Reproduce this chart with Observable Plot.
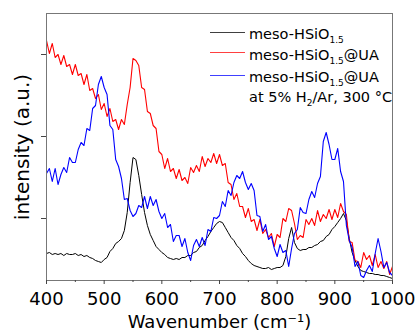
<!DOCTYPE html>
<html>
<head>
<meta charset="utf-8">
<script src="https://cdn.jsdelivr.net/npm/d3@7"></script>
<script src="https://cdn.jsdelivr.net/npm/@observablehq/plot@0.6"></script>
<style>
  body { margin: 0; background: white; }
  #wrap { position: relative; width: 418px; height: 331px; font-family: "DejaVu Sans", sans-serif; }
  .row { position: absolute; left: 249px; font-size: 14.5px; line-height: 14.5px; white-space: nowrap; color: #000; }
  .row sub { font-size: 9px; vertical-align: -4px; line-height: 0; }
  .key { position: absolute; left: 210px; width: 35px; height: 0; border-top: 1px solid; opacity: 0.75; }
</style>
</head>
<body>
<div id="wrap"></div>
<script>
// Wavenumber grid (cm^-1)
const wavenumber = [400,405,410,415,420,425,430,435,440,445,450,455,460,465,470,475,480,485,490,495,
  500,505,510,515,520,525,530,535,540,545,550,555,560,565,570,575,580,585,590,595,
  600,605,610,615,620,625,630,635,640,645,650,655,660,665,670,675,680,685,690,695,
  700,705,710,715,720,725,730,735,740,745,750,755,760,765,770,775,780,785,790,795,
  800,805,810,815,820,825,830,835,840,845,850,855,860,865,870,875,880,885,890,895,
  900,905,910,915,920,925,930,935,940,945,950,955,960,965,970,975,980,985,990,995,1000];

// meso-HSiO1.5 (black)
const seriesBlack = [27,28,26,27,26,27,25,27,26,26,27,25,26,24,25,23,22,20,19,18,
  21,23,29,32,37,39,42,50,68,98,123,121,105,86,68,55,46,40,34,31,
  28,26,23,22,21,22,21,23,23,25,25,28,29,33,35,40,44,49,53,57,
  59,58,53,48,43,40,35,32,27,24,20,17,15,14,13,12,12,13,11,12,
  13,13,15,24,42,53,38,32,30,31,31,33,33,35,36,39,40,44,46,51,
  54,58,62,67,60,42,28,20,14,10,9,8,7,7,6,6,5,5,4,3,2];

// meso-HSiO1.5@UA (red)
const seriesRed = [240,227,237,223,226,216,225,214,216,206,216,205,207,196,206,190,192,182,186,171,
  177,164,172,159,161,151,161,156,176,193,222,220,215,193,191,169,167,155,152,129,
  126,112,122,109,112,102,111,100,103,97,113,108,115,109,124,114,122,118,127,117,
  126,115,117,98,96,81,87,74,74,63,72,59,61,50,61,47,51,43,47,34,
  46,43,62,59,72,70,57,41,45,43,61,56,62,55,70,59,66,62,71,61,
  71,63,77,69,66,39,38,20,19,13,28,21,25,15,26,13,19,12,19,6,14];

// meso-HSiO1.5@UA at 5% H2/Ar, 300 °C (blue)
const seriesBlue = [107,112,99,112,96,106,113,108,123,118,118,131,138,135,152,150,172,175,196,204,
  193,186,155,151,121,114,102,81,82,70,64,67,75,73,84,72,84,75,81,69,
  62,67,53,56,39,45,45,34,42,28,20,35,41,34,43,35,51,49,63,62,
  65,79,74,90,85,98,105,102,109,98,91,97,90,65,64,49,56,41,44,32,
  24,36,28,30,14,32,47,51,73,68,67,81,89,83,97,104,139,148,136,121,
  121,132,109,99,55,40,33,14,19,5,3,10,15,9,27,42,29,13,18,8,5];

const xTicks = [400,500,600,700,800,900,1000];
const xMinorTicks = [450,550,650,750,850,950];
const yTicks = [62,144,226];

const font = "DejaVu Sans";
const axisColor = "#444";

const chart = Plot.plot({
  width: 418,
  height: 331,
  marginLeft: 46,
  marginRight: 26,
  marginTop: 13,
  marginBottom: 51,
  style: {fontFamily: font, background: "white", color: "#000"},
  x: {domain: [400, 1000]},
  y: {domain: [0, 267]},
  marks: [
    Plot.line(seriesBlack, {x: wavenumber, y: Plot.identity, stroke: "#000", strokeWidth: 1}),
    Plot.line(seriesRed, {x: wavenumber, y: Plot.identity, stroke: "#ff0000", strokeWidth: 1.1}),
    Plot.line(seriesBlue, {x: wavenumber, y: Plot.identity, stroke: "#0000ff", strokeWidth: 1.1}),
    Plot.frame({stroke: "#777"}),
    Plot.axisX({ticks: xTicks, tickSize: 4, tickPadding: 8, fontSize: 18, stroke: axisColor,
      tickFormat: d => String(d),
      label: "Wavenumber (cm⁻¹)", labelAnchor: "center", labelOffset: 47, labelArrow: "none"}),
    Plot.axisX({ticks: xMinorTicks, tickSize: 2, tickFormat: () => "", stroke: axisColor, label: null}),
    Plot.axisY({ticks: yTicks, tickSize: 5, tickFormat: () => "", stroke: axisColor, fontSize: 20,
      label: "intensity (a.u.)", labelAnchor: "center", labelOffset: 32, labelArrow: "none"})
  ]
});

const wrap = document.getElementById("wrap");
wrap.appendChild(chart);

// Legend (inside the plot area)
const legendItems = [
  {color: "#000000", keyTop: 32, rowTop: 26.6, html: "meso-HSiO<sub>1.5</sub>"},
  {color: "#ff0000", keyTop: 52, rowTop: 47.6, html: "meso-HSiO<sub>1.5</sub>@UA"},
  {color: "#0000ff", keyTop: 75, rowTop: 70, html: "meso-HSiO<sub>1.5</sub>@UA"},
  {color: null, keyTop: null, rowTop: 90.3, html: "at 5% H<sub>2</sub>/Ar, 300 °C"}
];
for (const it of legendItems) {
  if (it.color) {
    const k = document.createElement("div");
    k.className = "key";
    k.style.top = it.keyTop + "px";
    k.style.borderTopColor = it.color;
    wrap.appendChild(k);
  }
  const r = document.createElement("div");
  r.className = "row";
  r.style.top = it.rowTop + "px";
  r.innerHTML = it.html;
  wrap.appendChild(r);
}
</script>
</body>
</html>
